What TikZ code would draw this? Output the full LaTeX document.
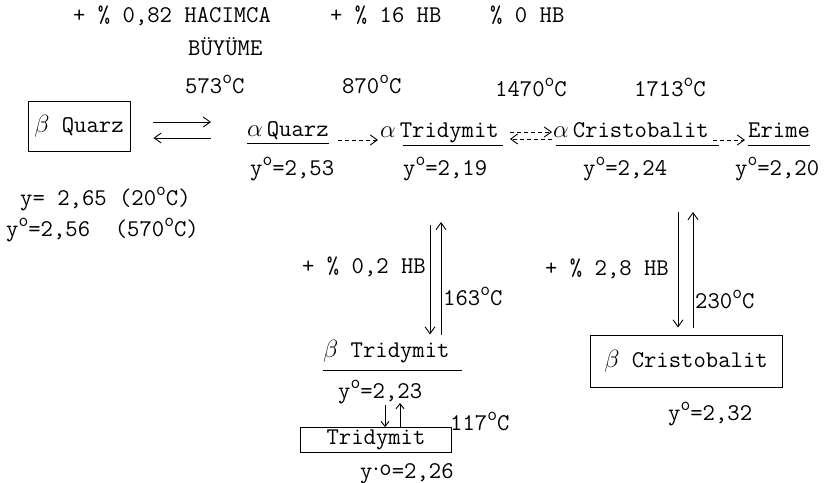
\documentclass[tikz,border=0pt]{standalone}
\usepackage{tikz}
\usetikzlibrary{arrows.meta,positioning,calc}

\newcommand{\dgr}{\raisebox{0.4em}{\fontsize{19}{19}\selectfont o}}

\begin{document}
\begin{tikzpicture}[
  x=1pt, y=-1pt,
  every node/.style={font=\fontsize{24}{28}\selectfont\ttfamily},
  txt/.style={inner sep=0pt, anchor=base west},
  phase/.style={draw, line width=0.9pt, inner sep=0pt},
  uline/.style={line width=0.8pt},
  line/.style={-{Straight Barb[length=7pt,width=10pt]}, line width=0.9pt},
  sline/.style={-{Straight Barb[length=5pt,width=8pt]}, line width=0.9pt},
  dline/.style={line, dash pattern=on 4pt off 3pt}
]
\useasboundingbox[fill=white] (0,0) rectangle (827,482);

% top labels
\node[txt] (hacim) at (73,22) {+ \% 0,82 HACIMCA};
\node[txt] (buyume) at (188,55) {BÜYÜME};
\node[txt] (hb16) at (330,22) {+ \% 16 HB};
\node[txt] (hb0) at (490,22) {\% 0 HB};

\node[txt] (t573) at (185,93) {573\dgr C};
\node[txt] (t870) at (342,93) {870\dgr C};
\node[txt] (t1470) at (495,96) {1470\dgr C};
\node[txt] (t1713) at (634,96) {1713\dgr C};

% main row
\node[phase, minimum width=102pt, minimum height=50pt] (bquarz) at (79,126) {$\beta$ Quarz};
\node[txt] (bqy1) at (20,205) {y= 2,65 (20\dgr C)};
\node[txt] (bqy2) at (6,236) {y\dgr=2,56\ \ (570\dgr C)};

\node[txt] (aquarz) at (247,136) {$\alpha$\,Quarz};
\node[txt] (aqy) at (250,175) {y\dgr=2,53};

\node[txt] (atrid) at (380,137) {$\alpha$\,Tridymit};
\node[txt] (aty) at (403,175) {y\dgr=2,19};

\node[txt] (acrist) at (553,137) {$\alpha$\,Cristobalit};
\node[txt] (acy) at (583,175) {y\dgr=2,24};

\node[txt] (erime) at (748,137) {Erime};
\node[txt] (ery) at (735,175) {y\dgr=2,20};

\draw[uline] ([yshift=-7pt]aquarz.base west) -- ([yshift=-7pt]aquarz.base east);
\draw[uline] ([xshift=23pt,yshift=-8pt]atrid.base west) -- ([xshift=4pt,yshift=-8pt]atrid.base east);
\draw[uline] ([xshift=3pt,yshift=-8pt]acrist.base west) -- ([xshift=10pt,yshift=-8pt]acrist.base east);
\draw[uline] ([yshift=-8pt]erime.base west) -- ([yshift=-8pt]erime.base east);

\draw[line] ([xshift=23pt,yshift=4pt]bquarz.east) -- ([xshift=-36pt,yshift=4pt]bquarz.east -| aquarz.west);
\draw[line] ([xshift=-36pt,yshift=-12pt]bquarz.east -| aquarz.west) -- ([xshift=23pt,yshift=-12pt]bquarz.east);
\draw[dline] ([xshift=9pt,yshift=-4pt]aquarz.base east) -- ([xshift=-2pt,yshift=-4pt]aquarz.base east -| atrid.west);
\draw[dline] ([xshift=11pt,yshift=5pt]atrid.base east) -- ([xshift=-1pt,yshift=5pt]atrid.base east -| acrist.west);
\draw[dline] ([xshift=-1pt,yshift=-2pt]atrid.base east -| acrist.west) -- ([xshift=11pt,yshift=-2pt]atrid.base east);
\draw[dline] ([xshift=4pt,yshift=-3pt]acrist.base east) -- ([xshift=-3pt,yshift=-3pt]acrist.base east -| erime.west);

% tridymit branch
\node[txt] (hb02) at (302,273) {+ \% 0,2 HB};
\node[txt] (t163) at (443,305) {163\dgr C};
\node[txt] (btrid) at (323,357) {$\beta$ Tridymit};
\node[txt] (bty) at (338,398) {y\dgr=2,23};
\node[txt] (t117) at (450,430) {117\dgr C};
\node[phase, minimum width=151pt, minimum height=25pt] (trid) at (376,440) {Tridymit};
\node[txt] (try) at (360,478) {y\raisebox{3pt}{$\cdot$}\raisebox{3pt}{o}=2,26};

\draw[uline] ([yshift=-13pt]btrid.base west) -- ([xshift=12pt,yshift=-13pt]btrid.base east);

\draw[line] ([xshift=27pt,yshift=-50pt]aty.base west) -- ([xshift=27pt,yshift=5pt]aty.base west |- btrid.north);
\draw[line] ([xshift=38pt,yshift=5pt]aty.base west |- btrid.north) -- ([xshift=38pt,yshift=-47pt]aty.base west);
\draw[sline] ([xshift=47pt,yshift=-7pt]bty.base west) -- ([xshift=47pt]bty.base west |- trid.north);
\draw[sline] ([xshift=62pt]bty.base west |- trid.north) -- ([xshift=62pt,yshift=-5pt]bty.base west);

% cristobalit branch
\node[txt] (hb28) at (545,275) {+ \% 2,8 HB};
\node[txt] (t230) at (695,308) {230\dgr C};
\node[phase, minimum width=192pt, minimum height=52pt] (bcrist) at (686,361) {$\beta$ Cristobalit};
\node[txt] (bcy) at (668,420) {y\dgr=2,32};

\draw[line] ([xshift=95pt,yshift=-37pt]acy.base west) -- ([xshift=95pt,yshift=7pt]acy.base west |- bcrist.north);
\draw[line] ([xshift=110pt,yshift=7pt]acy.base west |- bcrist.north) -- ([xshift=110pt,yshift=-37pt]acy.base west);

\end{tikzpicture}
\end{document}
